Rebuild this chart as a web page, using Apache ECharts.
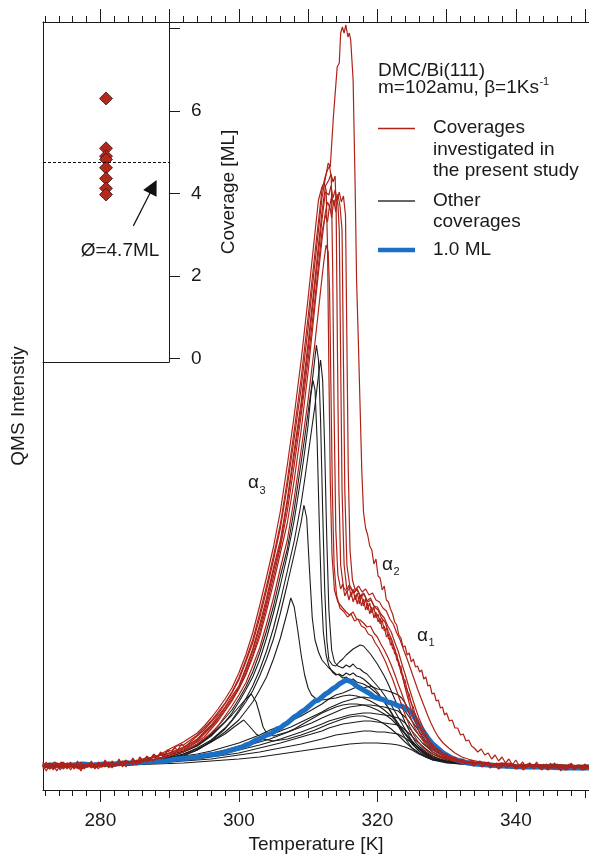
<!DOCTYPE html>
<html><head><meta charset="utf-8">
<script src="https://cdn.jsdelivr.net/npm/echarts@6/dist/echarts.min.js"></script>
<style>html,body{margin:0;padding:0;background:#fff}#c{width:589px;height:864px}</style>
</head><body><div id="c"></div>
<script>
// ---------- axis ranges & ticks ----------
const tempMin = 271.72, tempMax = 350.56;
const majorTicksBottom = [280, 300, 320, 340];
const midTicksBottom = [290, 310, 330, 350];
const majorTicksTop = [280, 290, 300, 310, 320, 330, 340, 350];
const minorTicks = [272,274,276,278,280,282,284,286,288,290,292,294,296,298,300,302,304,306,308,310,312,314,316,318,320,322,324,326,328,330,332,334,336,338,340,342,344,346,348,350];
const coverageTicks = [0, 2, 4, 6, 8];
const coverageLabels = [0, 2, 4, 6];

// ---------- inset: coverages investigated (ML) ----------
const coverageValues = [6.3, 5.09, 4.9, 4.82, 4.62, 4.36, 4.12, 3.97];
const meanCoverage = 4.75;
const arrowFrom = [0.717, 3.21];
const arrowTo = [0.875, 4.16];

// ---------- TPD spectra: [temperature K, QMS intensity (arb.)] ----------
// red: coverages investigated in the present study
const red1 = [[271.7,24],[272.2,19],[272.7,26],[273.2,21],[273.7,27],[274.2,20],[274.7,25],[275.2,22],[275.7,28],[276.2,21],[276.7,25],[277.2,19],[277.7,26],[278.2,23],[278.7,28],[279.2,21],[279.7,26],[280.2,23],[280.7,29],[281.2,22],[281.7,27],[282.2,24],[282.7,30],[283.2,23],[283.7,28],[284.2,26],[284.7,31],[285.2,25],[285.7,32],[286.2,28],[286.7,33],[287.2,29],[287.7,35],[288.2,31],[288.7,37],[289.2,33],[289.7,39],[290.2,37],[290.7,42],[291.2,40],[291.7,46],[292.2,43],[293,48],[294,54],[295,60],[296,68],[297,76],[298,86],[299,97],[300,110],[301,128],[302,147],[303,172],[304,200],[305,230],[306,262],[307,304],[308,352],[309,402],[310,462],[311,528],[312,592],[312.5,612],[312.9,627],[313.2,623],[313.65,673],[314.2,723],[314.5,727],[314.7,757],[314.95,763],[315.2,757],[315.45,765],[315.75,753],[315.95,757],[316.15,750],[316.5,710],[316.8,600],[317,510],[317.25,450],[317.5,385],[317.75,320],[318,278],[318.3,262],[318.6,255],[318.9,244],[319.2,240],[319.5,226],[319.8,231],[320.1,214],[320.4,212],[320.7,200],[321,204],[321.3,190],[321.6,188],[321.9,181],[322.2,176],[322.5,168],[322.8,165],[323.1,155],[323.4,152],[323.7,143],[324,144],[324.3,135],[324.6,137],[324.9,128],[325.2,131],[325.5,123],[325.8,124],[326.1,118],[326.4,120],[326.7,111],[327,113],[327.3,104],[327.6,105],[327.9,96],[328.2,97],[328.5,89],[328.8,90],[329.1,82],[329.4,83],[329.7,75],[330,77],[330.4,69],[330.8,70],[331.2,62],[331.6,62],[332,55],[332.4,56],[332.8,49],[333.2,50],[333.6,44],[334,42],[334.5,38],[335,41],[335.5,35],[336,37],[336.5,31],[337,35],[337.5,29],[338,33],[338.5,27],[339,31],[339.5,25],[340,30],[340.5,24],[341,28],[341.5,22],[342,27],[342.5,23],[343,28],[343.5,21],[344,26],[344.5,20],[345,27],[345.5,22],[346,26],[346.5,19],[347,25],[347.5,21],[348,27],[348.5,20],[349,25],[349.5,22],[350,26],[350.56,21]];
const red2 = [[271.7,28],[272.2,22],[272.7,27],[273.2,20],[273.7,26],[274.2,22],[274.7,28],[275.2,21],[275.7,27],[276.2,22],[276.7,29],[277.2,21],[277.7,26],[278.2,23],[278.7,29],[279.2,22],[279.7,28],[280.2,24],[280.7,30],[281.2,23],[281.7,29],[282.2,25],[282.7,31],[283.2,24],[283.7,30],[284.2,26],[284.7,32],[285.2,27],[285.7,33],[286.2,29],[286.7,34],[287.2,31],[287.7,36],[288.2,33],[288.7,38],[289.2,35],[289.7,40],[290.3,39],[291,44],[292,45],[294,55],[295,62],[296,69],[297,78],[298,87],[299,98],[300,112],[301,130],[302,150],[303,176],[304,204],[305,234],[306,266],[307,310],[308,360],[309,412],[310,473],[311,538],[312,600],[312.5,614],[312.8,620],[313.1,624],[313.35,612],[313.55,520],[313.75,380],[314,260],[314.3,215],[314.7,201],[315,206],[315.3,194],[315.6,199],[315.9,190],[316.2,198],[316.5,188],[316.8,195],[317.1,186],[317.4,194],[317.7,184],[318,191],[318.3,180],[318.6,187],[318.9,176],[319.2,183],[319.5,172],[319.8,178],[320.1,168],[320.4,172],[320.7,161],[321,164],[321.3,153],[321.6,156],[321.9,145],[322.2,146],[322.5,136],[322.8,136],[323.1,124],[323.4,124],[323.7,111],[324,110],[324.3,99],[324.6,96],[324.9,86],[325.2,83],[325.5,73],[325.8,71],[326.1,62],[326.4,61],[326.8,53],[327.2,52],[327.6,45],[328,45],[328.5,40],[329,40],[329.5,35],[330,36],[330.6,31],[331.2,33],[331.8,28],[332.4,31],[333,26],[333.6,30],[334.2,25],[334.8,29],[335.4,24],[336,28],[336.6,23],[337.2,27],[337.8,22],[338.4,27],[339,23],[339.6,26],[340.2,21],[340.8,26],[341.4,22],[342,27],[342.6,21],[343.2,25],[343.8,20],[344.4,26],[345,22],[345.6,27],[346.2,21],[346.8,25],[347.4,20],[348,26],[348.6,22],[349.2,25],[349.8,20],[350.56,24]];
const red3 = [[271.7,22],[272.6,27],[273.5,23],[274.4,28],[275.3,22],[276.2,26],[277.3,21],[278.6,26],[280,23],[281.4,27],[283,25],[284.5,28],[286,29],[287.5,33],[289,35],[290,37],[292,42],[294,51],[295,58],[296,65],[297,74],[298,83],[299,94],[300,104],[301,122],[302,141],[303,165],[304,192],[305,222],[306,250],[307,291],[308,340],[309,388],[310,447],[311,512],[312,578],[312.5,604],[313,610],[313.3,616],[313.6,608],[313.9,614],[314.05,580],[314.25,430],[314.45,300],[314.7,225],[315.1,203],[315.6,198],[316.1,203],[316.6,197],[317.1,201],[317.6,193],[318.1,196],[318.6,188],[319.1,190],[319.6,183],[320.1,180],[320.6,172],[321.1,168],[321.6,158],[322.1,150],[322.6,139],[323.1,127],[323.6,114],[324.1,100],[324.6,87],[325.1,75],[325.6,66],[326.1,57],[326.8,49],[327.6,43],[328.5,38],[329.5,34],[330.5,32],[332,29],[333.5,27],[335,28],[336.5,25],[338,27],[340,24],[342,26],[344,22],[346,25],[348.5,22],[350.56,24]];
const red4 = [[271.7,25],[272.7,21],[273.6,26],[274.6,23],[275.5,27],[276.6,22],[277.8,26],[279,23],[280.5,27],[282,25],[283.5,29],[285,28],[286.5,32],[288,33],[289,37],[290,41],[292,48],[294,57],[295,64],[296,72],[297,81],[298,91],[299,102],[300,117],[301,135],[302,157],[303,184],[304,213],[305,243],[306,279],[307,325],[308,375],[309,430],[310,492],[311,558],[311.5,590],[312,603],[312.3,607],[312.6,600],[312.8,545],[313,420],[313.2,310],[313.45,235],[313.8,200],[314.3,188],[315,182],[315.5,178],[316,175],[316.5,178],[317,171],[317.5,170],[318,167],[318.5,163],[319,164],[319.5,157],[320,153],[320.5,146],[321,140],[321.5,133],[322,125],[322.5,116],[323,106],[323.5,97],[324,87],[324.5,78],[325,69],[325.5,61],[326,55],[327,45],[328,38],[329,34],[330,31],[331.5,29],[333,27],[334.5,28],[336,25],[338,26],[340,23],[342.5,25],[345,22],[347.5,25],[350.56,23]];
const red5 = [[271.7,23],[272.2,28],[272.7,21],[273.2,26],[273.7,19],[274.2,25],[274.7,21],[275.2,27],[275.7,20],[276.2,25],[276.7,22],[277.2,28],[277.7,21],[278.2,26],[278.7,22],[279.2,27],[279.7,21],[280.2,26],[280.7,23],[281.2,28],[281.7,22],[282.2,27],[282.7,24],[283.2,29],[283.7,23],[284.2,28],[284.7,25],[285.2,30],[285.7,26],[286.2,31],[286.7,28],[287.2,32],[287.7,29],[288.2,34],[288.7,31],[289.2,35],[289.7,33],[290.3,36],[291,38],[292,40],[294,48],[295,53],[296,61],[297,69],[298,79],[299,89],[300,101],[301,115],[302,133],[303,153],[304,179],[305,207],[306,237],[307,267],[308,310],[309,360],[310,418],[311,485],[312,550],[312.5,578],[312.8,588],[313.1,583],[313.4,594],[313.7,585],[314,592],[314.3,586],[314.5,560],[314.7,430],[314.9,300],[315.2,225],[315.6,200],[315.9,205],[316.2,193],[316.5,201],[316.8,190],[317.1,197],[317.4,186],[317.7,195],[318,184],[318.3,191],[318.6,180],[318.9,187],[319.2,177],[319.5,183],[319.8,172],[320.1,176],[320.4,166],[320.7,170],[321,159],[321.3,162],[321.6,151],[321.9,152],[322.2,141],[322.5,141],[322.8,130],[323.1,128],[323.4,117],[323.7,115],[324,104],[324.3,101],[324.6,91],[324.9,88],[325.2,78],[325.5,76],[325.8,66],[326.1,65],[326.5,56],[326.9,55],[327.3,47],[327.7,47],[328.2,40],[328.7,41],[329.2,35],[329.7,36],[330.3,31],[330.9,33],[331.5,28],[332.1,31],[332.7,26],[333.3,29],[333.9,24],[334.5,28],[335.1,23],[335.7,27],[336.3,22],[336.9,26],[337.5,21],[338.1,26],[338.7,22],[339.3,27],[339.9,21],[340.5,25],[341.1,20],[341.7,26],[342.3,22],[342.9,26],[343.5,21],[344.1,25],[344.7,20],[345.3,26],[345.9,22],[346.5,25],[347.1,20],[347.7,26],[348.3,21],[348.9,25],[349.5,20],[350.56,24]];
const red6 = [[271.7,26],[272.9,22],[273.8,27],[274.8,23],[275.8,26],[276.9,21],[278,25],[279.3,22],[280.7,26],[282.2,24],[283.7,27],[285.2,26],[286.7,30],[288.2,31],[290,34],[292,38],[294,46],[295,51],[296,57],[297,64],[298,74],[299,84],[300,95],[301,107],[302,124],[303,142],[304,166],[305,192],[306,222],[307,250],[308,292],[309,340],[310,390],[311,448],[311.5,480],[312,512],[312.3,530],[312.6,545],[312.9,538],[313.1,500],[313.3,400],[313.5,300],[313.75,225],[314.1,195],[314.6,182],[315.2,178],[315.7,173],[316.2,176],[316.7,169],[317.2,171],[317.7,164],[318.2,162],[318.7,156],[319.2,154],[319.7,147],[320.2,142],[320.7,135],[321.2,128],[321.7,119],[322.2,111],[322.7,101],[323.2,91],[323.7,81],[324.2,72],[324.7,63],[325.2,56],[325.8,49],[326.5,43],[327.3,38],[328.2,35],[329.2,32],[330.5,30],[332,28],[333.5,26],[335,27],[337,24],[339,26],[341,23],[343.5,25],[346,22],[348.5,24],[350.56,22]];
const red7 = [[271.7,21],[272.6,25],[273.5,22],[274.5,27],[275.5,23],[276.5,26],[277.6,22],[278.8,25],[280.2,23],[281.7,27],[283.2,25],[284.7,29],[286.2,30],[287.7,33],[289,35],[290,36],[292,41],[294,49],[295,56],[296,63],[297,71],[298,80],[299,90],[300,102],[301,117],[302,135],[303,157],[304,184],[305,213],[306,243],[307,279],[308,325],[309,375],[310,430],[311,492],[311.5,525],[312,558],[312.5,575],[312.8,568],[313.1,585],[313.4,572],[313.7,590],[314,578],[314.3,596],[314.6,584],[314.9,560],[315.1,430],[315.3,300],[315.6,225],[316,205],[316.5,197],[317,201],[317.5,194],[318,197],[318.5,189],[319,192],[319.5,184],[320,183],[320.5,176],[321,172],[321.5,164],[322,158],[322.5,148],[323,139],[323.5,127],[324,116],[324.5,104],[325,93],[325.5,82],[326,72],[326.5,64],[327,56],[327.5,50],[328,45],[329,39],[330,35],[331,32],[332.5,29],[334,27],[335.5,28],[337,25],[339,27],[341,23],[343,26],[345.5,22],[348,25],[350.56,23]];
const red8 = [[271.7,27],[272.5,23],[273.4,28],[274.3,24],[275.2,27],[276.2,22],[277.4,26],[278.6,24],[280,27],[281.5,23],[283,27],[284.5,28],[286,30],[287.5,32],[289,36],[290,37],[292,43],[294,50],[295,57],[296,64],[297,72],[298,82],[299,92],[300,103],[301,120],[302,139],[303,162],[304,188],[305,219],[306,246],[307,287],[308,335],[309,382],[310,440],[311,505],[312,570],[312.5,598],[313,595],[313.3,604],[313.6,592],[313.9,600],[314.2,590],[314.5,598],[314.8,588],[315.1,594],[315.4,575],[315.6,450],[315.8,320],[316.05,240],[316.4,210],[316.8,200],[317.3,204],[317.8,198],[318.3,201],[318.8,195],[319.3,197],[319.8,190],[320.3,188],[320.8,182],[321.3,179],[321.8,171],[322.3,166],[322.8,157],[323.3,150],[323.8,140],[324.3,131],[324.8,121],[325.3,111],[325.8,101],[326.3,92],[326.8,83],[327.3,74],[327.8,66],[328.3,59],[328.8,53],[329.5,47],[330.3,42],[331.2,37],[332.2,33],[333.5,30],[335,28],[336.5,26],[338,27],[340,24],[342,26],[344,23],[346.5,25],[348.5,22],[350.56,24]];

// black: other coverages
const black1 = [[271.7,25],[274,23],[276,26],[278,24],[280,26],[282,25],[284,27],[286,28],[288,31],[290,35],[292,39],[294,46],[296,56],[298,72],[299,80],[300,91],[301,103],[302,118],[303,137],[304,159],[305,184],[306,214],[307,241],[308,281],[309,328],[309.5,352],[310,378],[310.5,403],[311,433],[311.2,445],[311.5,430],[311.8,370],[312.1,280],[312.4,200],[312.7,150],[313,130],[313.5,125],[314,124],[314.5,128],[315,131],[315.5,135],[316,138],[316.5,141],[317,143],[317.5,145],[318,144],[318.5,140],[319,136],[319.5,131],[320,126],[320.5,120],[321,114],[321.5,107],[322,99],[322.5,91],[323,83],[323.5,76],[324,68],[324.5,61],[325,54],[325.5,48],[326,44],[327,38],[328,34],[329,31],[330,29],[332,27],[334,26],[337,25],[340,24],[344,25],[347,23],[350.56,24]];
const black2 = [[271.7,24],[274,26],[276,23],[278,25],[280,24],[282,27],[284,26],[286,28],[288,30],[290,33],[292,38],[294,44],[296,54],[298,68],[299,77],[300,88],[301,100],[302,113],[303,130],[304,152],[305,177],[306,205],[307,235],[308,270],[309,314],[309.5,338],[310,365],[310.4,395],[310.7,410],[311,400],[311.3,350],[311.6,270],[311.9,200],[312.2,158],[312.6,135],[313,124],[313.5,118],[314,115],[314.5,116],[315,114],[315.5,117],[316,115],[316.5,117],[317,114],[317.5,113],[318,111],[318.5,108],[319,105],[319.5,102],[320,98],[320.5,93],[321,88],[321.5,83],[322,77],[322.5,71],[323,64],[323.5,58],[324,52],[324.5,47],[325,42],[326,37],[327,33],[328,30],[330,28],[333,26],[336,25],[340,24],[345,25],[350.56,23]];
const black3 = [[271.7,26],[274,24],[276,25],[278,23],[280,25],[282,26],[284,25],[286,27],[288,29],[290,32],[292,36],[294,42],[296,50],[298,62],[299,70],[300,80],[301,91],[302,104],[303,120],[304,139],[305,162],[306,189],[307,219],[308,249],[309,287],[309.5,310],[310,335],[310.5,360],[311,385],[311.5,415],[311.8,430],[312.1,410],[312.4,340],[312.7,250],[313,180],[313.4,140],[313.8,128],[314.3,124],[315,122],[315.5,125],[316,123],[316.5,126],[317,122],[317.5,121],[318,118],[318.5,116],[319,112],[319.5,108],[320,104],[320.5,100],[321,95],[321.5,90],[322,85],[322.5,79],[323,73],[323.5,67],[324,61],[324.5,55],[325,49],[325.5,45],[326,41],[327,36],[328,32],[329,30],[331,27],[334,26],[338,24],[342,25],[346,23],[350.56,24]];
const black4 = [[271.7,23],[274,25],[276,24],[278,26],[280,24],[282,26],[284,25],[286,27],[288,28],[290,30],[292,34],[294,40],[296,49],[298,61],[299,69],[300,78],[301,88],[302,99],[303,114],[304,131],[305,151],[306,177],[307,206],[308,236],[308.5,252],[309,268],[309.4,285],[309.8,272],[310.2,220],[310.6,172],[311,150],[311.5,138],[312,130],[312.5,126],[313,122],[313.5,119],[314,116],[314.5,115],[315,112],[315.5,113],[316,110],[316.5,111],[317,108],[317.5,107],[318,106],[318.5,104],[319,102],[319.5,99],[320,96],[320.5,92],[321,88],[321.5,83],[322,78],[322.5,72],[323,67],[323.5,61],[324,56],[324.5,51],[325,46],[326,39],[327,34],[328,31],[330,28],[333,26],[337,25],[341,24],[345,25],[350.56,24]];
const black5 = [[271.7,25],[274,24],[276,26],[278,24],[280,25],[282,24],[284,26],[286,27],[288,29],[290,31],[292,35],[294,40],[296,48],[298,58],[299,64],[300,70],[301,79],[302,88],[303,100],[304,113],[305,131],[306,152],[307,178],[307.5,192],[308,183],[308.5,160],[309,135],[309.5,115],[310,102],[310.5,95],[311,92],[311.5,91],[312,90],[313,91],[314,92],[315,94],[316,95],[317,94],[318,92],[319,89],[320,85],[321,80],[322,74],[323,66],[324,57],[325,48],[326,41],[327,35],[328,31],[330,28],[333,26],[337,25],[342,24],[346,25],[350.56,24]];
const black6 = [[271.7,24],[274,25],[276,23],[278,25],[280,24],[282,26],[284,25],[286,27],[288,30],[290,33],[292,38],[294,45],[296,55],[298,68],[299,75],[300,83],[301,91],[301.8,96],[302.5,88],[303,76],[303.5,63],[304,57],[305,54],[306,56],[307,58],[308,61],[309,65],[310,69],[311,73],[312,77],[313,80],[314,83],[315,85],[316,86],[317,86],[318,85],[319,83],[320,80],[321,76],[322,71],[323,64],[324,56],[325,49],[326,42],[327,36],[328,32],[330,28],[333,26],[337,25],[342,24],[350.56,24]];
const black7 = [[271.7,24],[275,24],[278,25],[281,24],[284,25],[287,27],[290,32],[292,36],[294,41],[296,48],[298,56],[299.5,64],[300.7,70],[301.5,64],[302.5,56],[303.5,51],[305,49],[307,51],[309,55],[311,60],[313,66],[315,71],[316,73],[317,74],[318,74],[319,72],[320,70],[321,66],[322,61],[323,55],[324,48],[325,42],[326,37],[327,33],[328,30],[330,27],[334,25],[340,24],[350.56,24]];
const black8 = [[271.7,25],[274,23],[276,24],[278,26],[280,25],[282,27],[284,27],[286,29],[288,30],[290,32],[292,34],[294,36],[296,39],[298,43],[300,47],[301.5,51],[303,55],[304.5,60],[306,64],[307.5,69],[309,74],[310.5,80],[312,86],[313,91],[314,95],[315,97],[316,100],[317,103],[318,102],[319,104],[320,101],[321,100],[322,98],[323,95],[323.5,92],[324,87],[324.5,81],[325,75],[325.5,70],[326,64],[326.5,58],[327,53],[327.5,48],[328,44],[329,38],[330,34],[331,31],[332,30],[334,28],[336,27],[338,26],[340,25],[343,24],[346,25],[350.56,24]];
const black9 = [[271.7,23],[274,25],[276,25],[278,24],[280,24],[282,26],[284,27],[286,28],[288,29],[290,30],[292,32],[294,34],[296,37],[298,40],[300,44],[301.5,47],[303,51],[304.5,55],[306,59],[307.5,63],[309,68],[310.5,73],[312,78],[313,82],[314,85],[315,88],[316,90],[317,92],[318,93],[319,92],[320,92],[321,90],[322,89],[323,86],[323.5,83],[324,79],[324.5,74],[325,69],[325.5,64],[326,59],[326.5,54],[327,49],[327.5,45],[328,42],[329,37],[330,33],[331,31],[332,29],[334,27],[336,26],[338,25],[340,25],[343,23],[346,24],[350.56,24]];
const black10 = [[271.7,26],[274,24],[276,24],[278,25],[280,25],[282,25],[284,26],[286,27],[288,29],[290,30],[292,31],[294,33],[296,36],[298,39],[300,42],[301.5,45],[303,48],[304.5,51],[306,55],[307.5,59],[309,63],[310.5,67],[312,72],[313,75],[314,78],[315,81],[316,83],[317,84],[318,85],[319,85],[320,84],[321,83],[322,81],[323,79],[323.5,76],[324,73],[324.5,69],[325,64],[325.5,59],[326,55],[326.5,51],[327,47],[327.5,43],[328,40],[329,36],[330,32],[331,30],[332,28],[334,27],[336,26],[338,25],[340,24],[343,25],[346,24],[350.56,23]];
const black11 = [[271.7,24],[275,24],[278,25],[280,25],[282,25],[284,26],[286,27],[288,28],[290,29],[292,31],[294,32],[296,34],[298,37],[300,40],[303,45],[306,51],[309,58],[310.5,62],[312,66],[313,69],[314,71],[315,73],[316,75],[317,76],[318,77],[319,77],[320,76],[321,75],[322,74],[323,72],[323.5,70],[324,67],[324.5,63],[325,59],[325.5,55],[326,51],[326.5,47],[327,44],[328,38],[329,34],[330,31],[332,28],[334,26],[337,25],[340,24],[345,24],[350.56,24]];
const black12 = [[271.7,25],[275,24],[278,24],[280,24],[284,26],[286,27],[288,28],[290,29],[292,30],[294,31],[296,33],[298,35],[300,37],[303,42],[306,47],[309,53],[310.5,56],[312,59],[313,62],[314,64],[315,66],[316,67],[317,68],[318,69],[319,69],[320,68],[321,67],[322,66],[323,65],[323.5,63],[324,60],[324.5,57],[325,54],[325.5,50],[326,47],[326.5,44],[327,41],[328,36],[329,33],[330,30],[332,27],[334,26],[337,25],[340,24],[345,24],[350.56,25]];
const black13 = [[271.7,24],[276,25],[280,25],[284,25],[286,26],[288,27],[290,28],[292,29],[294,30],[296,31],[298,33],[300,35],[303,38],[306,42],[309,46],[312,51],[313,53],[314,55],[315,56],[316,57],[317,58],[318,59],[319,59],[320,58],[321,58],[322,57],[323,56],[324,52],[325,47],[326,42],[327,37],[328,33],[330,29],[332,27],[334,26],[337,25],[340,24],[350.56,24]];
const black14 = [[271.7,25],[276,24],[280,24],[284,25],[288,26],[292,27],[296,29],[300,31],[303,33],[306,36],[309,39],[312,42],[314,44],[316,46],[318,47],[320,47],[322,46],[323,45],[324,43],[325,40],[326,36],[327,33],[328,31],[330,28],[332,26],[336,25],[340,24],[350.56,24]];

// blue: 1.0 ML
const blue1ML = [[271.7,24],[273,25],[274.5,24],[276,25],[277.5,26],[279,25],[280.5,26],[282,26],[283.5,27],[285,27],[286.5,28],[288,29],[289.5,29],[291,31],[292.5,32],[294,33],[295.5,35],[297,36],[298,38],[299,40],[300,42],[300.5,43],[301,45],[301.5,46],[302,48],[302.5,50],[303,51],[303.5,53],[304,55],[304.5,56],[305,58],[305.5,61],[306,62],[306.5,65],[307,67],[307.5,70],[308,73],[308.5,75],[309,78],[309.5,80],[310,83],[310.5,86],[311,89],[311.5,90],[312,93],[312.5,96],[313,98],[313.5,101],[314,103],[314.5,106],[315,108],[315.5,110],[316,109],[316.5,107],[317,104],[317.5,102],[318,100],[318.5,98],[319,96],[319.5,93],[320,92],[320.5,91],[321,90],[321.5,88],[322,87],[322.5,86],[323,84],[323.5,84],[324,82],[324.5,80],[325,77],[325.5,71],[326,65],[326.5,60],[327,55],[327.5,50],[328,46],[328.5,43],[329,40],[329.5,37],[330,35],[331,31],[332,29],[333,27],[334,26],[336,25],[338,24],[341,23],[344,23],[347,22],[350.56,22]];

const redCurves = [red1, red2, red3, red4, red5, red6, red7, red8];
const blackCurves = [black1, black2, black3, black4, black5, black6, black7, black8, black9, black10, black11, black12, black13, black14];

// ---------- styling ----------
const FONT = '"Liberation Sans", Arial, Helvetica, sans-serif';
const INK = '#1a1a1a';
const RED = '#ae2218';
const BLACK = '#1c1c1c';
const BLUE = '#1b70c6';
const FS = 19;

const ctx = document.createElement('canvas').getContext('2d');
function tw(t, size) { ctx.font = size + 'px ' + FONT; return ctx.measureText(t).width; }

const chart = echarts.init(document.getElementById('c'), null, {renderer: 'canvas'});

const lineAxis = {color: INK, width: 1};
function tickAxis(pos, values, len, showLine) {
  return {
    type: 'value', gridIndex: 0, position: pos, min: tempMin, max: tempMax,
    axisLine: {show: !!showLine, onZero: false, lineStyle: lineAxis},
    axisTick: {show: true, customValues: values, length: len, lineStyle: lineAxis},
    axisLabel: {show: false}, splitLine: {show: false}
  };
}

const series = [];
blackCurves.forEach(d => series.push({
  type: 'line', xAxisIndex: 0, yAxisIndex: 0, data: d, symbol: 'none', silent: true,
  lineStyle: {color: BLACK, width: 1.1}
}));
series.push({
  type: 'line', xAxisIndex: 0, yAxisIndex: 0, data: blue1ML, symbol: 'none', silent: true,
  lineStyle: {color: BLUE, width: 5}
});
redCurves.forEach(d => series.push({
  type: 'line', xAxisIndex: 0, yAxisIndex: 0, data: d, symbol: 'none', silent: true,
  lineStyle: {color: RED, width: 1.2}
}));
series.push({
  type: 'scatter', xAxisIndex: 5, yAxisIndex: 1, silent: true,
  data: coverageValues.map(v => [0.5, v]),
  symbol: 'diamond', symbolSize: 13,
  itemStyle: {color: '#b3281d', borderColor: '#3b1510', borderWidth: 0.8, opacity: 1},
  markLine: {
    silent: true, symbol: ['none', 'none'], label: {show: false},
    lineStyle: {type: [3, 2], color: '#111', width: 1},
    data: [{yAxis: meanCoverage}]
  }
});
series.push({
  type: 'line', xAxisIndex: 5, yAxisIndex: 1, data: [], silent: true,
  markLine: {
    silent: true, symbol: ['none', 'triangle'], symbolSize: 15, label: {show: false},
    lineStyle: {type: 'solid', color: '#111', width: 1.2},
    itemStyle: {color: '#111'},
    data: [[{coord: arrowFrom}, {coord: arrowTo}]]
  }
});

function txt(x, y, t, size, align) {
  return {type: 'text', x: x, y: y, silent: true, z: 100,
    style: {text: t, fill: INK, font: size + 'px ' + FONT, align: align || 'left', verticalAlign: 'middle'}};
}
function seg(y, color, w) {
  return {type: 'line', silent: true, z: 100, shape: {x1: 378, y1: y, x2: 415, y2: y}, style: {stroke: color, lineWidth: w}};
}
const mLine = 'm=102amu, β=1Ks';
const graphics = [
  txt(378, 71, 'DMC/Bi(111)', FS),
  txt(378, 88, mLine, FS),
  txt(378 + tw(mLine, FS) + 0.5, 82, '-1', 11),
  seg(128.5, RED, 1.4),
  txt(433, 128, 'Coverages', FS),
  txt(433, 149.5, 'investigated in', FS),
  txt(433, 171, 'the present study', FS),
  seg(201, '#333', 1.4),
  txt(433, 201, 'Other', FS),
  txt(433, 222, 'coverages', FS),
  seg(250, BLUE, 4.5),
  txt(433, 250, '1.0 ML', FS),
  txt(248, 483, 'α', FS),
  txt(248 + tw('α', FS) + 0.5, 491, '3', 11),
  txt(382, 565, 'α', FS),
  txt(382 + tw('α', FS) + 0.5, 572, '2', 11),
  txt(417, 636, 'α', FS),
  txt(417 + tw('α', FS) + 0.5, 643, '1', 11),
  txt(120, 251, 'Ø=4.7ML', FS, 'center')
];

chart.setOption({
  animation: false,
  backgroundColor: '#fff',
  textStyle: {fontFamily: FONT},
  grid: [
    {left: 43, top: 22, right: 0, bottom: 74},
    {left: 43, top: 22, width: 126, height: 340}
  ],
  xAxis: [
    {
      type: 'value', gridIndex: 0, position: 'bottom', min: tempMin, max: tempMax,
      axisLine: {show: true, onZero: false, lineStyle: lineAxis},
      axisTick: {show: true, customValues: majorTicksBottom, length: 12, lineStyle: lineAxis},
      axisLabel: {show: true, customValues: majorTicksBottom, margin: 21, fontSize: FS, fontFamily: FONT, color: INK},
      splitLine: {show: false},
      name: 'Temperature [K]', nameLocation: 'middle', nameGap: 44,
      nameTextStyle: {fontSize: FS, fontFamily: FONT, color: INK}
    },
    tickAxis('bottom', midTicksBottom, 8, false),
    tickAxis('bottom', minorTicks, 6, false),
    tickAxis('top', majorTicksTop, 13, true),
    tickAxis('top', minorTicks, 6, false),
    {
      type: 'value', gridIndex: 1, position: 'bottom', min: 0, max: 1,
      axisLine: {show: true, onZero: false, lineStyle: lineAxis},
      axisTick: {show: false}, axisLabel: {show: false}, splitLine: {show: false}
    }
  ],
  yAxis: [
    {
      type: 'value', gridIndex: 0, position: 'left', min: 0, max: 768,
      axisLine: {show: true, onZero: false, lineStyle: lineAxis},
      axisTick: {show: false}, axisLabel: {show: false}, splitLine: {show: false},
      name: 'QMS Intenstiy', nameLocation: 'middle', nameGap: 15, nameRotate: 90,
      nameTextStyle: {fontSize: FS, fontFamily: FONT, color: INK}
    },
    {
      type: 'value', gridIndex: 1, position: 'right', min: -0.09, max: 8.153,
      axisLine: {show: true, onZero: false, lineStyle: lineAxis},
      axisTick: {show: true, customValues: coverageTicks, length: 11, lineStyle: lineAxis},
      axisLabel: {show: true, customValues: coverageLabels, margin: 22, fontSize: FS, fontFamily: FONT, color: INK},
      splitLine: {show: false},
      name: 'Coverage [ML]', nameLocation: 'middle', nameGap: 50, nameRotate: 90,
      nameTextStyle: {fontSize: FS, fontFamily: FONT, color: INK}
    }
  ],
  series: series,
  graphic: graphics
});
</script></body></html>
